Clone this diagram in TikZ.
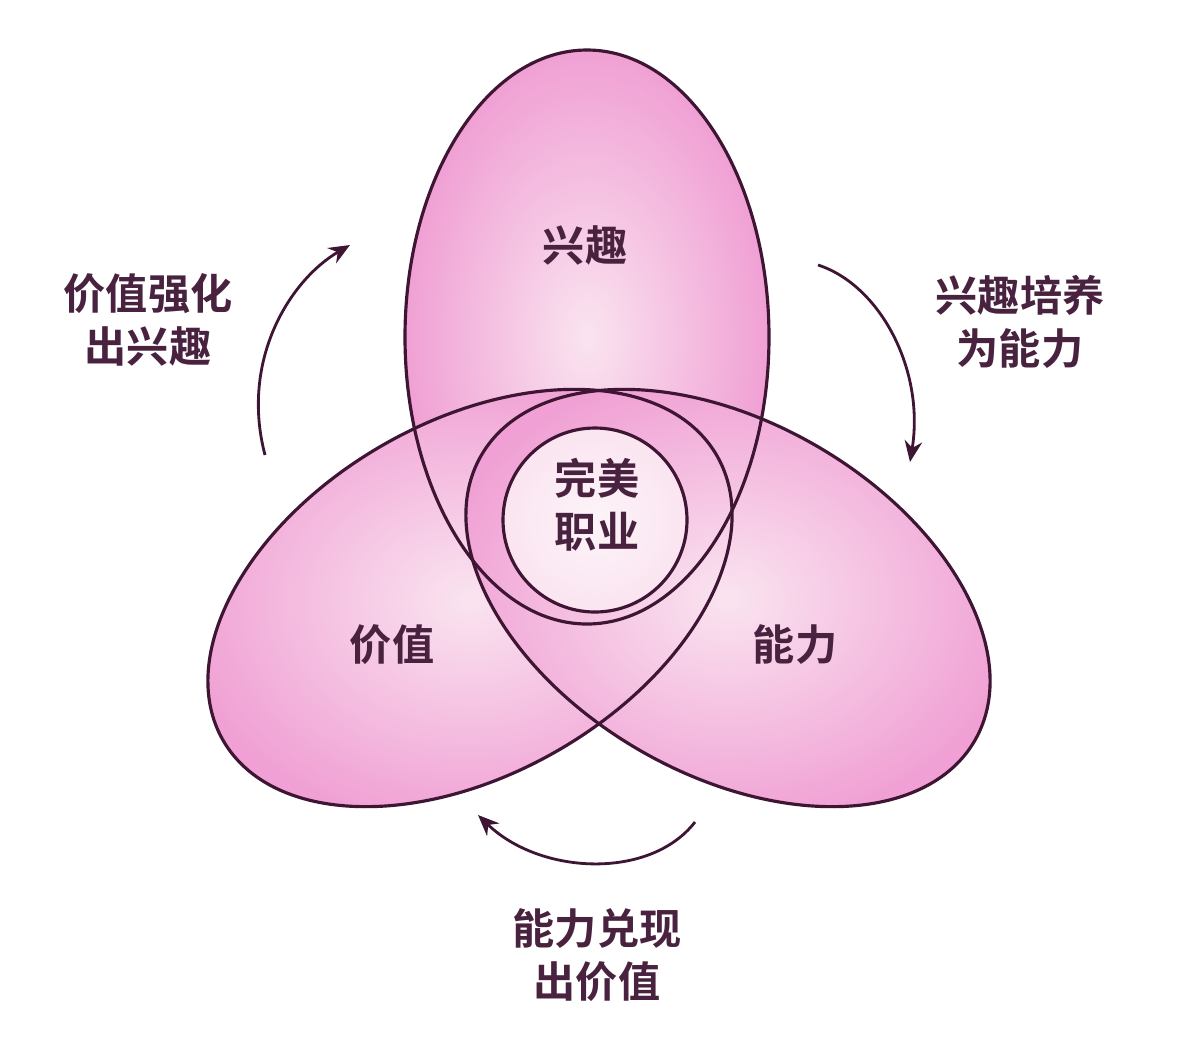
\documentclass[tikz,border=0pt]{standalone}
\usepackage{fontspec}
\newfontfamily\cjk{Noto Sans CJK SC Bold}
\usetikzlibrary{arrows.meta}
\definecolor{petal}{RGB}{240,160,212}
\definecolor{petallight}{RGB}{250,228,240}
\definecolor{edge}{RGB}{62,22,52}
\definecolor{ink}{RGB}{72,34,62}
\tikzset{
  petalfill/.style={inner color=petallight, outer color=petal},
  petalline/.style={draw=edge, line width=1.8pt},
  word/.style={font=\cjk\fontsize{24}{30}\selectfont, text=ink, align=center},
  turn/.style={draw=edge, line width=1.6pt, -{Stealth[length=12pt,width=10pt]}}
}
\begin{document}
\begin{tikzpicture}[x=0.02cm, y=-0.02cm]
  \useasboundingbox[fill=white] (0,0) rectangle (1200,1036);

  % petals
  \shade[petalfill] (587,337) ellipse [x radius=182, y radius=287];
  \shade[petalfill, rotate around={30:(470,598)}] (470,598) ellipse [x radius=285, y radius=176];
  \shade[petalfill, rotate around={-30:(728,598)}] (728,598) ellipse [x radius=285, y radius=176];
  \shade[inner color=white!60!petallight, outer color=petallight] (595,520) circle [radius=92];

  \draw[petalline] (587,337) ellipse [x radius=182, y radius=287];
  \draw[petalline, rotate around={30:(470,598)}] (470,598) ellipse [x radius=285, y radius=176];
  \draw[petalline, rotate around={-30:(728,598)}] (728,598) ellipse [x radius=285, y radius=176];
  \draw[petalline] (595,520) circle [radius=92];

  % labels
  \node[word] (interest) at (585,245) {兴趣};
  \node[word] (value) at (392,645) {价值};
  \node[word] (ability) at (795,645) {能力};
  \node[word] (career) at (597,505) {完美\\职业};
  \node[word] (lefttext) at (148,320) {价值强化\\出兴趣};
  \node[word] (righttext) at (1020,322) {兴趣培养\\为能力};
  \node[word] (bottomtext) at (597,955) {能力兑现\\出价值};

  % arrows
  \coordinate (ls) at (265,455);
  \coordinate (le) at (350,245);
  \coordinate (rs) at (818,265);
  \coordinate (re) at (910,462);
  \coordinate (bs) at (695,822);
  \coordinate (be) at (478,815);
  \draw[turn] (ls) .. controls (240,360) and (290,280) .. (le);
  \draw[turn] (rs) .. controls (880,285) and (925,370) .. (re);
  \draw[turn] (bs) .. controls (650,880) and (540,875) .. (be);
\end{tikzpicture}
\end{document}
